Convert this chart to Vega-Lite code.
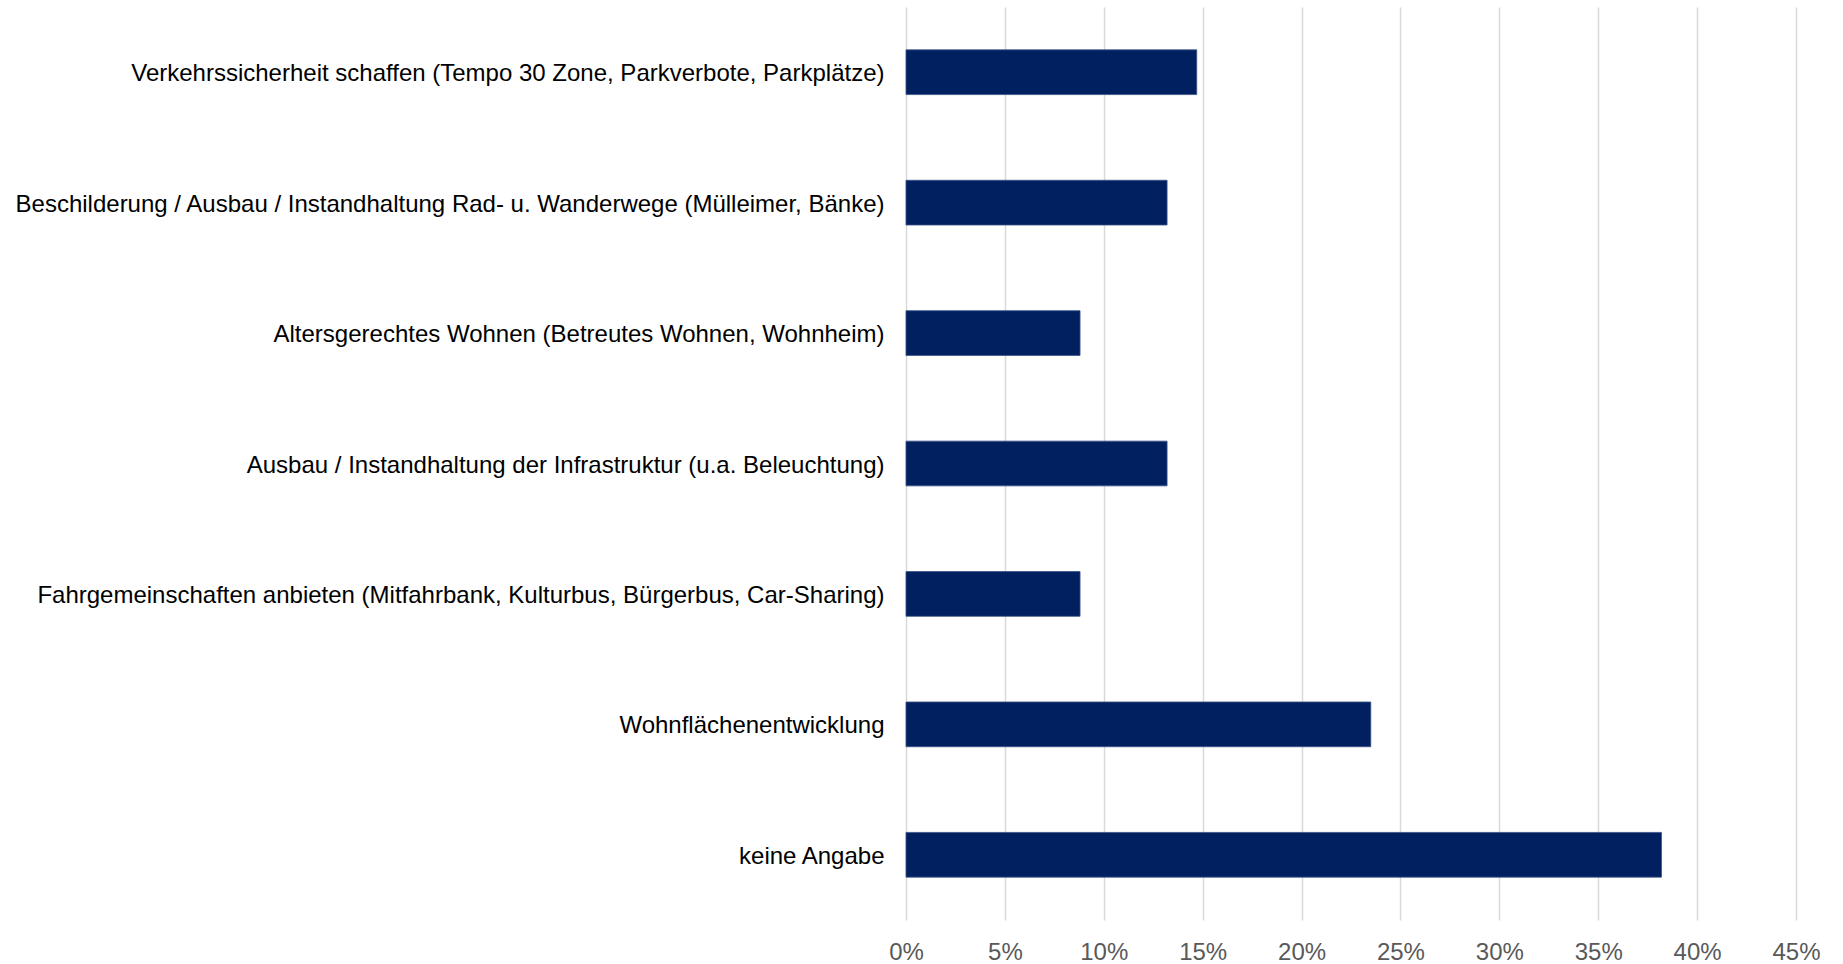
{
  "$schema": "https://vega.github.io/schema/vega-lite/v6.json",
  "width": 890,
  "height": 913,
  "autosize": {"type": "none"},
  "padding": {"left": 906, "top": 7, "right": 47, "bottom": 44},
  "background": "white",
  "config": {"view": {"stroke": null}, "font": "Liberation Sans"},
  "data": {
    "values": [
      {"kategorie": "Verkehrssicherheit schaffen (Tempo 30 Zone, Parkverbote, Parkplätze)", "anteil": 0.147},
      {"kategorie": "Beschilderung / Ausbau / Instandhaltung Rad- u. Wanderwege (Mülleimer, Bänke)", "anteil": 0.132},
      {"kategorie": "Altersgerechtes Wohnen (Betreutes Wohnen, Wohnheim)", "anteil": 0.088},
      {"kategorie": "Ausbau / Instandhaltung der Infrastruktur (u.a. Beleuchtung)", "anteil": 0.132},
      {"kategorie": "Fahrgemeinschaften anbieten (Mitfahrbank, Kulturbus, Bürgerbus, Car-Sharing)", "anteil": 0.088},
      {"kategorie": "Wohnflächenentwicklung", "anteil": 0.235},
      {"kategorie": "keine Angabe", "anteil": 0.382}
    ]
  },
  "mark": {"type": "bar", "color": "#002060", "stroke": "#3a5285", "strokeWidth": 0.8},
  "encoding": {
    "y": {
      "field": "kategorie",
      "type": "nominal",
      "sort": null,
      "title": null,
      "scale": {"paddingInner": 0.657, "paddingOuter": 0.3285},
      "axis": {
        "domain": false,
        "ticks": false,
        "grid": false,
        "labelFont": "Liberation Sans",
        "labelFontSize": 24,
        "labelColor": "#000000",
        "labelPadding": 22,
        "labelLimit": 1000,
        "labelOffset": 2
      }
    },
    "x": {
      "field": "anteil",
      "type": "quantitative",
      "title": null,
      "scale": {"domain": [0, 0.45], "nice": false},
      "axis": {
        "values": [0, 0.05, 0.1, 0.15, 0.2, 0.25, 0.3, 0.35, 0.4, 0.45],
        "format": ".0%",
        "domain": false,
        "ticks": false,
        "grid": true,
        "gridColor": "#d9d9d9",
        "gridWidth": 1.5,
        "labelFlush": false,
        "labelFont": "Liberation Sans",
        "labelFontSize": 24,
        "labelColor": "#595959",
        "labelPadding": 20
      }
    }
  }
}
